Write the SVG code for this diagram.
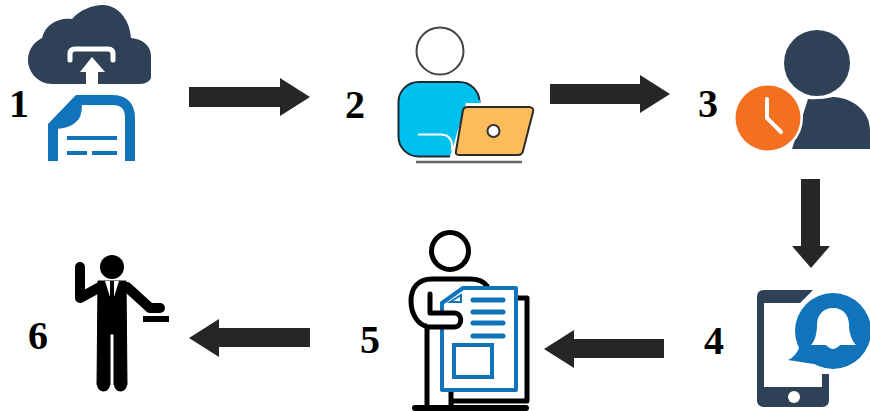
<svg xmlns="http://www.w3.org/2000/svg" width="870" height="411" viewBox="0 0 870 411">
<style>
.num{font-family:"Liberation Serif",serif;font-weight:bold;font-size:40px;fill:#000}
.arrow{fill:#262626}
.navy{fill:#2e4156}
.blue{fill:#1174bb}
.bl{fill:none;stroke:#1174bb}
.bk{fill:none;stroke:#000;stroke-linecap:round;stroke-linejoin:round}
</style>
<rect width="870" height="411" fill="#fff"/>
<g id="connectors" class="arrow">
<polygon points="189,87 280,87 280,78 310,97 280,116 280,107 189,107"/>
<polygon points="550,84 640,84 640,75 670,94 640,113 640,104 550,104"/>
<polygon points="801,179 820,179 820,246 830,246 811,268 792,246 801,246"/>
<polygon points="664,339 574,339 574,330 544,349 574,368 574,358 664,358"/>
<polygon points="310,328 219,328 219,319 189,338 219,357 219,347 310,347"/>
</g>
<g id="node1">
<path class="navy" d="M52,84C38,84 28,72 28,60C28,50 34,42 42,38C45,25 58,17 72,19C80,10 92,5 103,5C118,5 130,20 131,38C143,39 151,46 151,56V78C149,82 145,84 138,84Z"/>
<path d="M70,60V54Q70,49 75,49H108Q113,49 113,54V60" fill="none" stroke="#fff" stroke-width="5" stroke-linecap="round"/>
<polygon points="92,57 105,72 98,72 98,85 86,85 86,72 80,72" fill="#fff"/>
<path class="bl" stroke-width="10" d="M53,161V126L78,100H112Q130,100 130,118V161"/>
<path class="blue" d="M82,104Q82,118 76,122Q70,128 56,129L52,122L78,97Z"/>
<path class="bl" stroke-width="4" d="M67,138H117M67,153H87M92,153H117"/>
<text class="num" x="9" y="117">1</text>
</g>
<g id="node2">
<circle cx="440" cy="51" r="23.5" fill="#fff" stroke="#444" stroke-width="2"/>
<rect x="398.500" y="82" width="81" height="74.500" rx="20" fill="#00c0ee" stroke="#1c2b33" stroke-width="2"/>
<path d="M418,134H442Q452,134 452,144V158H480V100H468Z" fill="#00c0ee"/>
<path d="M418,134.500H441Q452,135 452,146V150" fill="none" stroke="#fff" stroke-width="2"/>
<path d="M466,103H536L524,160H449Z" fill="#fff"/>
<path d="M467,107H529Q534,107 533,112L523,151Q522,155 518,155H459Q455,155 456,151L463,110Q464,107 467,107Z" fill="#fdbb5b" stroke="#2a2a2a" stroke-width="2"/>
<circle cx="493.500" cy="131" r="6" fill="#fff" stroke="#333" stroke-width="2"/>
<path d="M416,162H522" stroke="#666" stroke-width="2.500" fill="none"/>
<text class="num" x="345" y="118">2</text>
</g>
<g id="node3">
<circle class="navy" cx="817" cy="63" r="33"/>
<path class="navy" d="M792,149L808,99Q820,100 833,97C854,98 870,112 870,130V149Z"/>
<circle cx="768" cy="118" r="35" fill="#fff"/>
<circle cx="768" cy="118" r="32.500" fill="#f37021"/>
<path d="M767,99V118L781,132" fill="none" stroke="#fff" stroke-width="4" stroke-linecap="round" stroke-linejoin="round"/>
<text class="num" x="698" y="117">3</text>
</g>
<g id="node4">
<path class="navy" fill-rule="evenodd" d="M764,290H822Q829,290 829,297V400Q829,407 822,407H764Q757,407 757,400V297Q757,290 764,290ZM764,303V387H822V303Z"/>
<circle cx="794" cy="397" r="6" fill="#fff"/>
<path d="M815,288H840V374H822V345H790V303H800Z" fill="#fff"/>
<rect class="navy" x="822" y="374" width="7" height="14"/>
<circle class="blue" cx="833" cy="331" r="38"/>
<path class="blue" d="M800,345L806,352L820,365L788,360Q797,356 800,345Z"/>
<path fill="#fff" d="M833,308C844,308 849,316 849,325C849,333 852,341 856,345H840Q836,349 833,349Q830,349 826,345H811C815,341 817,333 817,325C817,316 822,308 833,308Z"/>
<text class="num" x="704" y="354">4</text>
</g>
<g id="node5">
<circle cx="450" cy="251" r="18.500" fill="none" stroke="#000" stroke-width="5"/>
<path class="bk" stroke-width="5" d="M487,286Q482,279 470,279H432C418,279 411,288 411,301C411,316 420,326 427,326"/>
<path class="bk" stroke-width="5" d="M427,328V408M451,390V408M503,298H527V401H453"/>
<path class="bk" stroke-width="6" d="M415,408H526"/>
<path d="M442,303L463,288H516V390H442Z" fill="#fff" stroke="#1174bb" stroke-width="4" stroke-linejoin="round"/>
<polygon points="450,302 461,295 461,302" fill="#fff" stroke="#1174bb" stroke-width="2"/>
<path class="bk" stroke-width="5" fill="#fff" d="M430,294V313H454C463,313 463,327 454,327H427" style="fill:#fff"/>
<path d="M473,300H503M473,312H503M473,323H503M473,336H503" class="bl" stroke-width="5" stroke-linecap="round"/>
<rect x="454" y="345" width="38" height="32" fill="none" stroke="#1174bb" stroke-width="4"/>
<text class="num" x="360" y="353">5</text>
</g>
<g id="node6">
<circle cx="112" cy="267" r="12" fill="#000"/>
<path class="bk" stroke-width="10" d="M80,267V298L100,287M127,287L150,308H160"/>
<path d="M98,281H126L127,385H114V334H110V385H97Z" fill="#000" stroke="#000" stroke-width="1" stroke-linejoin="round"/>
<path d="M97,385a6.500,6.500 0 0 0 13,0ZM114,385a6.500,6.500 0 0 0 13,0Z" fill="#000"/>
<polygon points="105,281 110,281 110,297" fill="#fff"/>
<polygon points="114,281 119,281 114,297" fill="#fff"/>
<rect x="143" y="316" width="26" height="6" fill="#000"/>
<text class="num" x="28" y="349">6</text>
</g>
</svg>
